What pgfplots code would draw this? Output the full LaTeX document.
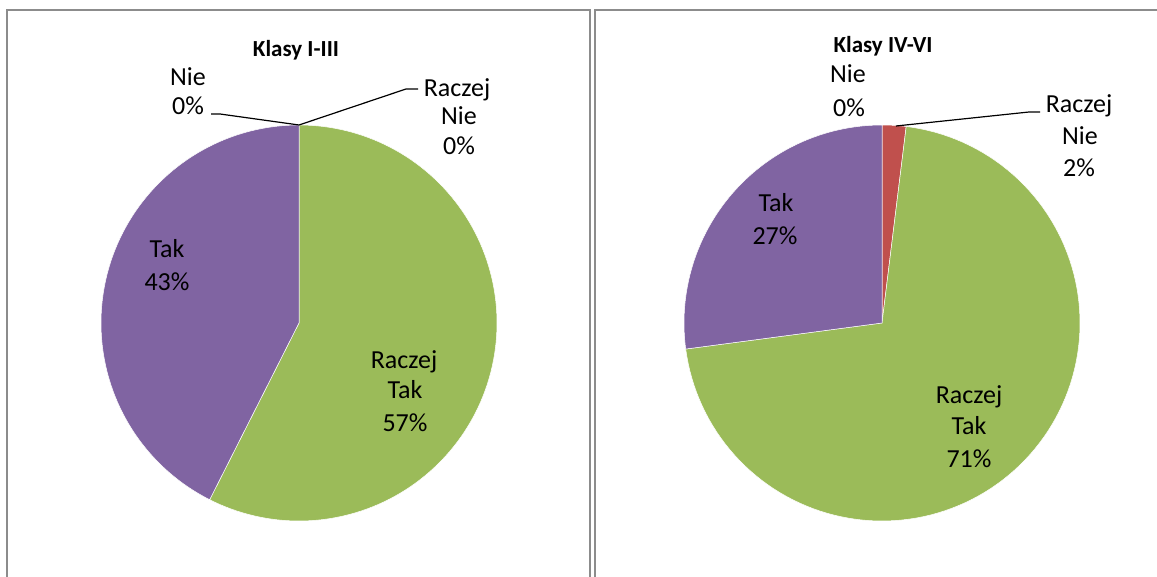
\documentclass[border=0pt]{standalone}
\usepackage{pgfplots}
\pgfplotsset{compat=1.18}
\usepackage{fontspec}
\setmainfont{Carlito}
\definecolor{cgreen}{HTML}{9BBB59}
\definecolor{cpurple}{HTML}{8064A2}
\definecolor{cred}{HTML}{C0504D}
\definecolor{cframe}{HTML}{8C8C8C}
% data (percent): order Nie, Raczej Nie, Raczej Tak, Tak
\def\LNie{0}\def\LRNie{0}\def\LRTak{57.45}\def\LTak{42.55}
\def\RNie{0}\def\RRNie{1.95}\def\RRTak{70.95}\def\RTak{27.1}
\pgfmathsetmacro\La{90-3.6*\LNie}
\pgfmathsetmacro\Lb{\La-3.6*\LRNie}
\pgfmathsetmacro\Lc{\Lb-3.6*\LRTak}
\pgfmathsetmacro\Ld{\Lc-3.6*\LTak}
\pgfmathsetmacro\Ra{90-3.6*\RNie}
\pgfmathsetmacro\Rb{\Ra-3.6*\RRNie}
\pgfmathsetmacro\Rc{\Rb-3.6*\RRTak}
\pgfmathsetmacro\Rd{\Rc-3.6*\RTak}
\newcommand{\slice}[5]{%
  \addplot[fill=#5, draw=white, line width=0.5pt, domain=#3:#4, samples=120, variable=\t]
    ({#1+198*cos(\t)},{#2-198*sin(\t)}) -- (axis cs:#1,#2) -- cycle;}
\tikzset{lab/.style={font=\fontsize{26}{31}\selectfont, inner sep=0pt, anchor=base},
         ttl/.style={font=\fontsize{23}{28}\selectfont\bfseries, inner sep=0pt, anchor=base}}
\begin{document}
\begin{tikzpicture}
\useasboundingbox (0,0) rectangle (1157pt,577pt);
\begin{axis}[
  at={(0,0)}, anchor=south west,
  width=1157pt, height=577pt, scale only axis,
  xmin=0, xmax=1157, ymin=0, ymax=577, y dir=reverse,
  hide axis, clip=true,
]
% panel frames
\addplot[cframe, line width=1.5pt] coordinates {(7,600) (7,10) (590,10) (590,600)};
\addplot[cframe, line width=1.5pt] coordinates {(595,600) (595,10) (1200,10)};
% left pie
\slice{299}{323}{\Lb}{\Lc}{cgreen}
\slice{299}{323}{\Lc}{\Ld}{cpurple}
% right pie
\slice{882}{323}{\Ra}{\Rb}{cred}
\slice{882}{323}{\Rb}{\Rc}{cgreen}
\slice{882}{323}{\Rc}{\Rd}{cpurple}
% leader lines
\addplot[black, line width=1.2pt] coordinates {(211,114) (220,114) (299,125)};
\addplot[black, line width=1.2pt] coordinates {(299,125) (406,89) (418,89)};
\addplot[black, line width=1.2pt] coordinates {(896,126) (1029,112) (1040,112)};
% titles
\node[ttl] at (axis cs:296,57) {Klasy I-III};
\node[ttl] at (axis cs:883,53) {Klasy IV-VI};
% left labels
\node[lab] at (axis cs:188,86) {Nie};
\node[lab] at (axis cs:188,115) {0\%};
\node[lab] at (axis cs:457,97) {Raczej};
\node[lab] at (axis cs:459,125) {Nie};
\node[lab] at (axis cs:459,155) {0\%};
\node[lab] at (axis cs:167,258) {Tak};
\node[lab] at (axis cs:167,291) {43\%};
\node[lab] at (axis cs:404,368) {Raczej};
\node[lab] at (axis cs:405,399) {Tak};
\node[lab] at (axis cs:405,431) {57\%};
% right labels
\node[lab] at (axis cs:848,83) {Nie};
\node[lab] at (axis cs:849,117) {0\%};
\node[lab] at (axis cs:1079,113) {Raczej};
\node[lab] at (axis cs:1080,145) {Nie};
\node[lab] at (axis cs:1079,177) {2\%};
\node[lab] at (axis cs:776,212) {Tak};
\node[lab] at (axis cs:775,245) {27\%};
\node[lab] at (axis cs:969,403) {Raczej};
\node[lab] at (axis cs:969,434) {Tak};
\node[lab] at (axis cs:969,467) {71\%};
\end{axis}
\end{tikzpicture}
\end{document}
